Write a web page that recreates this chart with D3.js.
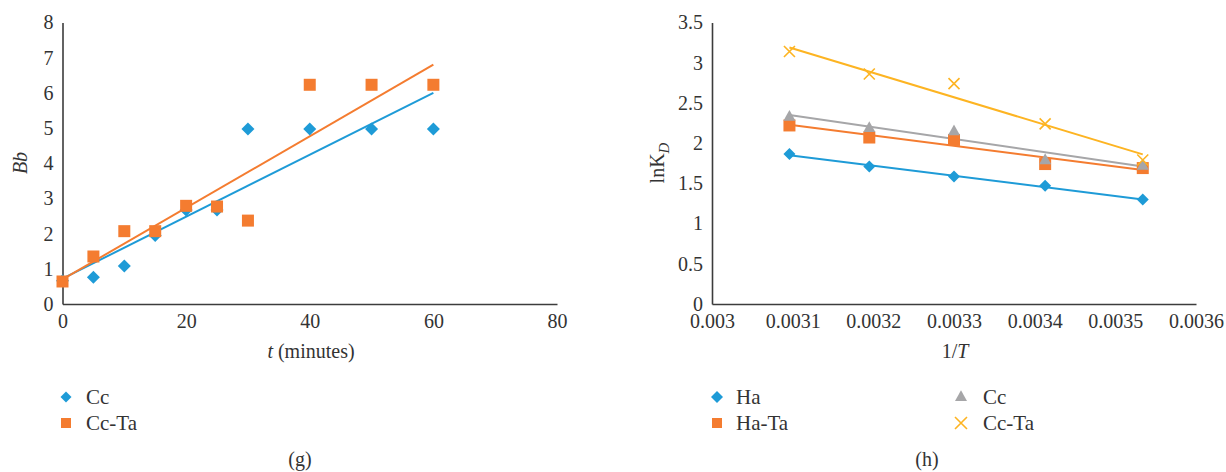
<!DOCTYPE html>
<html><head><meta charset="utf-8">
<script src="https://cdn.jsdelivr.net/npm/d3@7"></script>
<style>
body{margin:0;background:#fff;}
svg{display:block;font-family:"Liberation Serif","DejaVu Serif",serif;}
svg text{font-family:"Liberation Serif","DejaVu Serif",serif;}
</style></head>
<body>
<svg id="c" width="1226" height="472"></svg>
<script>
// ---- Panel (g) data ----
const gTime = [0, 5, 10, 15, 20, 25, 30, 40, 50, 60];
const gCc   = [0.66, 0.76, 1.08, 1.95, 2.67, 2.67, 4.97, 4.97, 4.97, 4.97];
const gCcTa = [0.64, 1.35, 2.07, 2.07, 2.79, 2.77, 2.37, 6.23, 6.23, 6.23];
const gTrendX = [0, 60];
const gTrendCc = [0.72, 6.0];
const gTrendCcTa = [0.70, 6.8];
const gXTicks = [0, 20, 40, 60, 80];
const gYTicks = [0, 1, 2, 3, 4, 5, 6, 7, 8];

// ---- Panel (h) data ----
const hInvT = [0.003096, 0.003195, 0.0033, 0.003413, 0.003534];
const hHa   = [1.865, 1.71, 1.585, 1.47, 1.30];
const hHaTa = [2.22, 2.07, 2.04, 1.74, 1.69];
const hCc   = [2.33, 2.19, 2.15, 1.79, 1.72];
const hCcTa = [3.14, 2.86, 2.74, 2.24, 1.79];
const hTrendX = [0.003096, 0.003534];
const hTrendHa = [1.85, 1.30];
const hTrendHaTa = [2.23, 1.665];
const hTrendCc = [2.35, 1.71];
const hTrendCcTa = [3.19, 1.86];
const hXTicks = [0.003, 0.0031, 0.0032, 0.0033, 0.0034, 0.0035, 0.0036];
const hXTickLabels = ["0.003", "0.0031", "0.0032", "0.0033", "0.0034", "0.0035", "0.0036"];
const hYTicks = [0, 0.5, 1, 1.5, 2, 2.5, 3, 3.5];

const C = {blue:"#1e9bd7", orange:"#f47c30", gray:"#a6a6a8", yellow:"#fdb422"};
const svg = d3.select("#c");
const FS = 20;
const textCol = "#333333";
const FF = "Liberation Serif, DejaVu Serif, serif";

function axes(g, x, y, xTicks, xFmt, yTicks){
  const xa = d3.axisBottom(x).tickValues(xTicks).tickSize(0).tickPadding(10).tickFormat(xFmt);
  const ya = d3.axisLeft(y).tickValues(yTicks).tickSize(0).tickPadding(9).tickFormat(d=>String(d));
  const gx = g.append("g").attr("transform",`translate(0,${y.range()[0]})`).call(xa);
  const gy = g.append("g").attr("transform",`translate(${x.range()[0]},0)`).call(ya);
  [gx,gy].forEach(a=>{
    a.attr("font-family",FF).attr("font-size",FS);
    a.select(".domain").attr("stroke","#3c3c3c").attr("stroke-width",1.6);
    a.selectAll("text").attr("font-size",FS).attr("fill",textCol).attr("font-family",FF);
  });
}
function drawPts(g, xs, ys, x, y, kind, col, sz){
  const data = xs.map((v,i)=>[v, ys[i]]);
  const sel = g.append("g").selectAll("g").data(data).join("g")
    .attr("transform",d=>`translate(${x(d[0])},${y(d[1])})`);
  marker(sel, kind, col, sz);
}
function marker(sel, kind, col, sz){
  if(kind==="diamond"){
    sel.append("path").attr("d",d3.symbol().type(d3.symbolSquare).size(sz*sz*0.5)()).attr("transform","rotate(45)").attr("fill",col);
  } else if(kind==="square"){
    sel.append("rect").attr("x",-sz/2).attr("y",-sz/2).attr("width",sz).attr("height",sz).attr("fill",col);
  } else if(kind==="triangle"){
    const h = sz*0.9;
    sel.append("path").attr("d",`M0,${-h*0.62}L${sz/2},${h*0.38}L${-sz/2},${h*0.38}Z`).attr("fill",col);
  } else if(kind==="x"){
    const r = sz/2;
    sel.append("path").attr("d",`M${-r},${-r}L${r},${r}M${-r},${r}L${r},${-r}`).attr("stroke",col).attr("stroke-width",1.6).attr("fill","none");
  }
}
function trend(g, xs, ys, x, y, col){
  g.append("line").attr("x1",x(xs[0])).attr("y1",y(ys[0])).attr("x2",x(xs[1])).attr("y2",y(ys[1]))
    .attr("stroke",col).attr("stroke-width",2);
}

// ---- Panel g ----
{
  const g = svg.append("g");
  const x = d3.scaleLinear().domain([0,80]).range([62.5,557]);
  const y = d3.scaleLinear().domain([0,8]).range([304,22.5]);
  axes(g, x, y, gXTicks, d=>String(d), gYTicks);
  trend(g, gTrendX, gTrendCc, x, y, C.blue);
  trend(g, gTrendX, gTrendCcTa, x, y, C.orange);
  drawPts(g, gTime, gCc, x, y, "diamond", C.blue, 13);
  drawPts(g, gTime, gCcTa, x, y, "square", C.orange, 12);
  const t = g.append("text").attr("x",311).attr("y",358).attr("text-anchor","middle").attr("font-size",FS).attr("fill",textCol);
  t.append("tspan").attr("font-style","italic").text("t");
  t.append("tspan").text(" (minutes)");
  g.append("text").attr("transform","translate(27,163) rotate(-90)").attr("text-anchor","middle")
    .attr("font-size",FS).attr("font-style","italic").attr("fill",textCol).text("Bb");
  const leg = [["diamond",C.blue,"Cc"],["square",C.orange,"Cc-Ta"]];
  leg.forEach((l,i)=>{
    const lg = g.append("g").attr("transform",`translate(66,${397+i*26})`);
    marker(lg, l[0], l[1], l[0]==="square"?10:11);
    lg.append("text").attr("x",20).attr("y",7).attr("font-size",FS+1).attr("fill",textCol).text(l[2]);
  });
  g.append("text").attr("x",300).attr("y",466).attr("text-anchor","middle").attr("font-size",FS).attr("fill",textCol).text("(g)");
}

// ---- Panel h ----
{
  const g = svg.append("g");
  const x = d3.scaleLinear().domain([0.003,0.0036]).range([712,1196]);
  const y = d3.scaleLinear().domain([0,3.5]).range([304,22.5]);
  axes(g, x, y, hXTicks, (d,i)=>hXTickLabels[i], hYTicks);
  trend(g, hTrendX, hTrendHa, x, y, C.blue);
  trend(g, hTrendX, hTrendHaTa, x, y, C.orange);
  trend(g, hTrendX, hTrendCc, x, y, C.gray);
  trend(g, hTrendX, hTrendCcTa, x, y, C.yellow);
  drawPts(g, hInvT, hHa, x, y, "diamond", C.blue, 12);
  drawPts(g, hInvT, hHaTa, x, y, "square", C.orange, 12);
  drawPts(g, hInvT, hCc, x, y, "triangle", C.gray, 12);
  drawPts(g, hInvT, hCcTa, x, y, "x", C.yellow, 11);
  const t = g.append("text").attr("x",955).attr("y",358).attr("text-anchor","middle").attr("font-size",FS).attr("fill",textCol);
  t.append("tspan").text("1/");
  t.append("tspan").attr("font-style","italic").text("T");
  const yl = g.append("text").attr("transform","translate(664,163) rotate(-90)").attr("text-anchor","middle")
    .attr("font-size",FS).attr("fill",textCol);
  yl.append("tspan").text("lnK");
  yl.append("tspan").attr("font-style","italic").attr("font-size",15).attr("dy",5).text("D");
  const leg = [["diamond",C.blue,"Ha",0,0],["square",C.orange,"Ha-Ta",0,1],["triangle",C.gray,"Cc",1,0],["x",C.yellow,"Cc-Ta",1,1]];
  leg.forEach(l=>{
    const lg = g.append("g").attr("transform",`translate(${717+l[3]*244},${397+l[4]*26})`);
    marker(lg, l[0], l[1], l[0]==="square"?10:12);
    lg.append("text").attr("x",l[3]?22:19).attr("y",7).attr("font-size",FS+1).attr("fill",textCol).text(l[2]);
  });
  g.append("text").attr("x",927).attr("y",466).attr("text-anchor","middle").attr("font-size",FS).attr("fill",textCol).text("(h)");
}
</script>
</body></html>
